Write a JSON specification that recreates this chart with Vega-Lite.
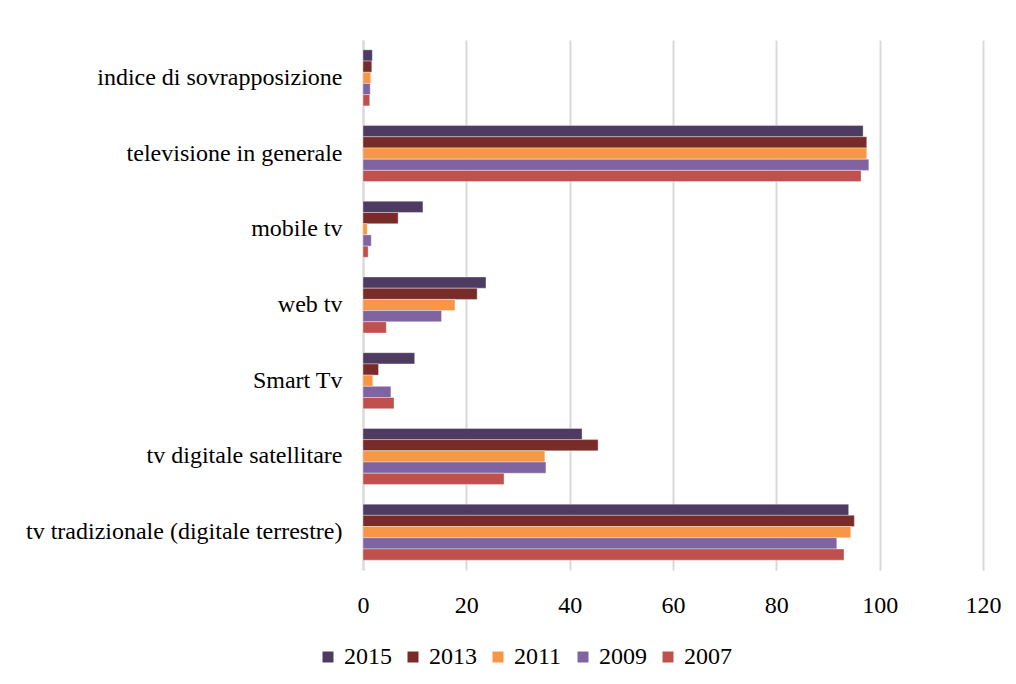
{
  "$schema": "https://vega.github.io/schema/vega-lite/v6.json",
  "width": 620,
  "height": 530,
  "autosize": {"type": "none"},
  "padding": {"left": 363, "top": 40, "right": 33, "bottom": 114},
  "background": "white",
  "data": {
    "values": [
      {"categoria": "indice di sovrapposizione", "anno": "2015", "valore": 1.8},
      {"categoria": "indice di sovrapposizione", "anno": "2013", "valore": 1.7},
      {"categoria": "indice di sovrapposizione", "anno": "2011", "valore": 1.5},
      {"categoria": "indice di sovrapposizione", "anno": "2009", "valore": 1.4},
      {"categoria": "indice di sovrapposizione", "anno": "2007", "valore": 1.3},
      {"categoria": "televisione in generale", "anno": "2015", "valore": 96.8},
      {"categoria": "televisione in generale", "anno": "2013", "valore": 97.5},
      {"categoria": "televisione in generale", "anno": "2011", "valore": 97.5},
      {"categoria": "televisione in generale", "anno": "2009", "valore": 97.9},
      {"categoria": "televisione in generale", "anno": "2007", "valore": 96.4},
      {"categoria": "mobile tv", "anno": "2015", "valore": 11.6},
      {"categoria": "mobile tv", "anno": "2013", "valore": 6.8},
      {"categoria": "mobile tv", "anno": "2011", "valore": 0.8},
      {"categoria": "mobile tv", "anno": "2009", "valore": 1.6},
      {"categoria": "mobile tv", "anno": "2007", "valore": 1.0},
      {"categoria": "web tv", "anno": "2015", "valore": 23.8},
      {"categoria": "web tv", "anno": "2013", "valore": 22.1},
      {"categoria": "web tv", "anno": "2011", "valore": 17.8},
      {"categoria": "web tv", "anno": "2009", "valore": 15.2},
      {"categoria": "web tv", "anno": "2007", "valore": 4.5},
      {"categoria": "Smart Tv", "anno": "2015", "valore": 10.0},
      {"categoria": "Smart Tv", "anno": "2013", "valore": 3.0},
      {"categoria": "Smart Tv", "anno": "2011", "valore": 1.9},
      {"categoria": "Smart Tv", "anno": "2009", "valore": 5.4},
      {"categoria": "Smart Tv", "anno": "2007", "valore": 6.0},
      {"categoria": "tv digitale satellitare", "anno": "2015", "valore": 42.4},
      {"categoria": "tv digitale satellitare", "anno": "2013", "valore": 45.5},
      {"categoria": "tv digitale satellitare", "anno": "2011", "valore": 35.2},
      {"categoria": "tv digitale satellitare", "anno": "2009", "valore": 35.4},
      {"categoria": "tv digitale satellitare", "anno": "2007", "valore": 27.3},
      {"categoria": "tv tradizionale (digitale terrestre)", "anno": "2015", "valore": 94.0},
      {"categoria": "tv tradizionale (digitale terrestre)", "anno": "2013", "valore": 95.1},
      {"categoria": "tv tradizionale (digitale terrestre)", "anno": "2011", "valore": 94.4},
      {"categoria": "tv tradizionale (digitale terrestre)", "anno": "2009", "valore": 91.7},
      {"categoria": "tv tradizionale (digitale terrestre)", "anno": "2007", "valore": 93.1}
    ]
  },
  "mark": {"type": "bar", "stroke": "white", "strokeWidth": 0.8, "strokeOpacity": 0.45},
  "encoding": {
    "y": {
      "field": "categoria",
      "type": "nominal",
      "sort": [
        "indice di sovrapposizione",
        "televisione in generale",
        "mobile tv",
        "web tv",
        "Smart Tv",
        "tv digitale satellitare",
        "tv tradizionale (digitale terrestre)"
      ],
      "scale": {"paddingInner": 0.26, "paddingOuter": 0.13},
      "axis": {
        "title": null,
        "ticks": false,
        "labelPadding": 21,
        "labelFontSize": 24,
        "labelLimit": 400,
        "domainColor": "#d9d9d9",
        "domainWidth": 2
      }
    },
    "yOffset": {
      "field": "anno",
      "type": "nominal",
      "sort": ["2015", "2013", "2011", "2009", "2007"],
      "scale": {"paddingInner": 0, "paddingOuter": 0}
    },
    "x": {
      "field": "valore",
      "type": "quantitative",
      "scale": {"domain": [0, 120], "nice": false},
      "axis": {
        "title": null,
        "values": [0, 20, 40, 60, 80, 100, 120],
        "ticks": false,
        "domain": false,
        "grid": true,
        "gridColor": "#d9d9d9",
        "gridWidth": 2,
        "labelPadding": 23,
        "labelFontSize": 24,
        "labelFlush": false
      }
    },
    "color": {
      "field": "anno",
      "type": "nominal",
      "scale": {
        "domain": ["2015", "2013", "2011", "2009", "2007"],
        "range": ["#4d3b62", "#772c2a", "#f79646", "#8064a2", "#c0504d"]
      },
      "legend": {
        "title": null,
        "orient": "none",
        "direction": "horizontal",
        "legendX": -47,
        "legendY": 605,
        "columns": 5,
        "columnPadding": 9,
        "padding": 0,
        "symbolType": "square",
        "symbolSize": 121,
        "symbolStrokeWidth": 0,
        "symbolOpacity": 1,
        "labelOffset": 4,
        "labelFontSize": 24
      }
    }
  },
  "config": {
    "font": "Liberation Serif",
    "view": {"stroke": null},
    "axis": {"labelColor": "#000000", "labelFont": "Liberation Serif"},
    "legend": {"labelColor": "#000000", "labelFont": "Liberation Serif"}
  }
}
